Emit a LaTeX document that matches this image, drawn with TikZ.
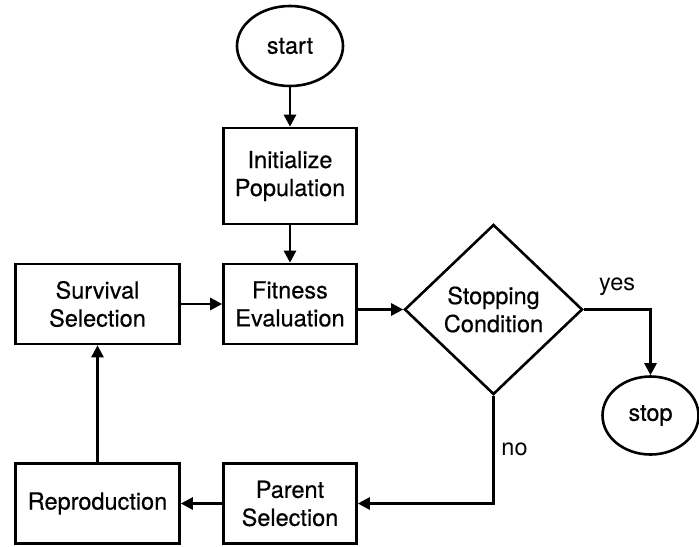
\documentclass[tikz,border=0pt]{standalone}
\usepackage{fontspec}
\setmainfont{TeX Gyre Heros}
\newfontfamily\mediumfont{TeX Gyre Heros}[FakeBold=0.4]
\usetikzlibrary{arrows.meta, positioning, shapes.geometric}

\begin{document}
\begin{tikzpicture}[
    > = {Triangle[length=6pt, width=6pt]}, % arrow head style
    line width = 1.3pt, % line style
    every node/.style={font=\fontsize{11.75}{14}\selectfont},
    terminal/.style={ellipse, draw, inner sep=0pt, font=\fontsize{11.75}{14}\mediumfont, minimum width=53pt, minimum height=40pt},
    process/.style={rectangle, draw, align=center, inner sep=0pt, font=\fontsize{11.75}{14}\mediumfont, minimum width=66.5pt, minimum height=40pt},
    decision/.style={diamond, draw, align=center, inner sep=0pt, font=\fontsize{11.75}{14}\mediumfont, aspect=1.05, minimum width=89pt, minimum height=85pt}
  ]

  \useasboundingbox (-145pt,-250pt) rectangle (204.5pt,23pt);

  \node[terminal] (start) at (0,0) {start};
  \node[process, minimum height=48pt] (init) [below = 19.7pt of start] {Initialize\\Population};
  \node[process] (fit) [below = 18.7pt of init] {Fitness\\Evaluation};
  \node[process, minimum width=82pt] (surv) [left = 20.7pt of fit] {Survival\\Selection};
  \node[decision] (cond) [right = 22.7pt of fit, yshift=-2.75pt] {Stopping\\Condition};
  \node[terminal, minimum width=48pt, minimum height=39pt] (stop) [below = 32.85pt of cond.east, xshift=33.35pt] {stop};
  \node[process] (parent) [below = 58.45pt of fit] {Parent\\Selection};
  \node[process, minimum width=82pt] (repro) [left = 20.7pt of parent] {Reproduction};

  \draw[->] (start) -- (init);
  \draw[->] (init) -- (fit);
  \draw[->] (surv) -- (fit);
  \draw[->] (fit.east |- cond.west) -- (cond.west);
  \draw[->] (cond.east) -| node[pos=0.25, above=3pt] {yes} (stop.north);
  \draw[->] (cond.south) |- node[pos=0.25, right] {no} (parent.east);
  \draw[->] (parent) -- (repro);
  \draw[->] (repro) -- (surv);
\end{tikzpicture}
\end{document}
